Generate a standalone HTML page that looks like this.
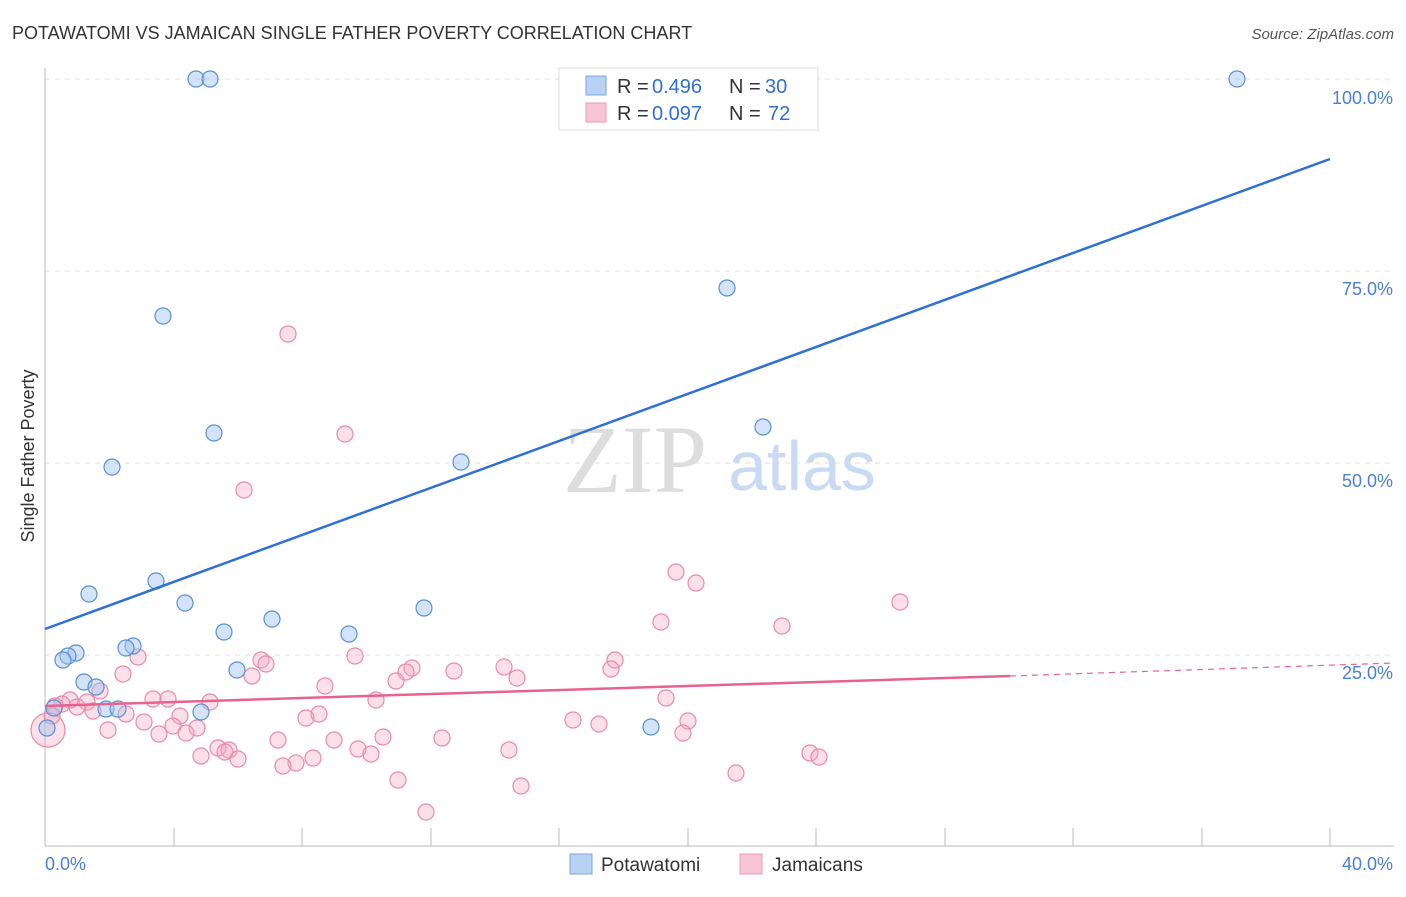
<!DOCTYPE html>
<html><head><meta charset="utf-8"><style>
body{margin:0;background:#fff;font-family:"Liberation Sans",sans-serif}
</style></head><body>
<svg width="1406" height="892" xmlns="http://www.w3.org/2000/svg" font-family="Liberation Sans, sans-serif">
<text x="12" y="39" font-size="18" fill="#333">POTAWATOMI VS JAMAICAN SINGLE FATHER POVERTY CORRELATION CHART</text>
<text x="1394" y="39" font-size="15" fill="#555" font-style="italic" text-anchor="end">Source: ZipAtlas.com</text>
<g stroke="#ddd" stroke-dasharray="5,5" stroke-width="1">
<line x1="45" y1="79" x2="1394" y2="79"/><line x1="45" y1="271" x2="1394" y2="271"/><line x1="45" y1="463" x2="1394" y2="463"/><line x1="45" y1="655" x2="1394" y2="655"/>
</g>
<line x1="45" y1="68" x2="45" y2="846" stroke="#bbb"/>
<line x1="45" y1="846" x2="1394" y2="846" stroke="#bbb"/>
<g stroke="#bbb"><line x1="174" y1="828" x2="174" y2="846"/><line x1="302" y1="828" x2="302" y2="846"/><line x1="431" y1="828" x2="431" y2="846"/><line x1="559" y1="828" x2="559" y2="846"/><line x1="688" y1="828" x2="688" y2="846"/><line x1="816" y1="828" x2="816" y2="846"/><line x1="945" y1="828" x2="945" y2="846"/><line x1="1073" y1="828" x2="1073" y2="846"/><line x1="1202" y1="828" x2="1202" y2="846"/><line x1="1330" y1="828" x2="1330" y2="846"/></g>
<g font-size="18" fill="#4a7fd4" text-anchor="end"><text x="1393" y="104">100.0%</text><text x="1393" y="295">75.0%</text><text x="1393" y="487">50.0%</text><text x="1393" y="679">25.0%</text></g>
<text x="45" y="870" font-size="18" fill="#4a7fd4">0.0%</text>
<text x="1393" y="870" font-size="18" fill="#4a7fd4" text-anchor="end">40.0%</text>
<text transform="translate(34,456) rotate(-90)" font-size="18" fill="#333" text-anchor="middle">Single Father Poverty</text>
<text x="635" y="492" font-size="96" fill="#ddd" font-family="Liberation Serif, serif" text-anchor="middle">ZIP</text>
<text x="802" y="490" font-size="70" fill="#c9daf3" text-anchor="middle">atlas</text>
<g fill="#f4a7bf" fill-opacity="0.35" stroke="#e98aa9" stroke-width="1.2">
<circle cx="48" cy="730" r="17"/>
<circle cx="288" cy="334" r="8"/><circle cx="345" cy="434" r="8"/><circle cx="244" cy="490" r="8"/><circle cx="676" cy="572" r="8"/><circle cx="696" cy="583" r="8"/><circle cx="900" cy="602" r="8"/><circle cx="661" cy="622" r="8"/><circle cx="782" cy="626" r="8"/><circle cx="138" cy="657" r="8"/><circle cx="615" cy="660" r="8"/><circle cx="261" cy="660" r="8"/><circle cx="266" cy="664" r="8"/><circle cx="355" cy="656" r="8"/><circle cx="504" cy="667" r="8"/><circle cx="454" cy="671" r="8"/><circle cx="412" cy="668" r="8"/><circle cx="406" cy="672" r="8"/><circle cx="611" cy="669" r="8"/><circle cx="123" cy="674" r="8"/><circle cx="252" cy="676" r="8"/><circle cx="396" cy="681" r="8"/><circle cx="517" cy="678" r="8"/><circle cx="325" cy="686" r="8"/><circle cx="100" cy="691" r="8"/><circle cx="666" cy="698" r="8"/><circle cx="153" cy="699" r="8"/><circle cx="168" cy="699" r="8"/><circle cx="210" cy="702" r="8"/><circle cx="376" cy="700" r="8"/><circle cx="70" cy="700" r="8"/><circle cx="87" cy="702" r="8"/><circle cx="62" cy="704" r="8"/><circle cx="77" cy="707" r="8"/><circle cx="55" cy="706" r="8"/><circle cx="93" cy="711" r="8"/><circle cx="126" cy="714" r="8"/><circle cx="180" cy="716" r="8"/><circle cx="319" cy="714" r="8"/><circle cx="306" cy="718" r="8"/><circle cx="144" cy="722" r="8"/><circle cx="173" cy="726" r="8"/><circle cx="197" cy="728" r="8"/><circle cx="573" cy="720" r="8"/><circle cx="599" cy="724" r="8"/><circle cx="688" cy="721" r="8"/><circle cx="108" cy="730" r="8"/><circle cx="159" cy="734" r="8"/><circle cx="186" cy="733" r="8"/><circle cx="383" cy="737" r="8"/><circle cx="442" cy="738" r="8"/><circle cx="683" cy="733" r="8"/><circle cx="278" cy="740" r="8"/><circle cx="334" cy="740" r="8"/><circle cx="218" cy="748" r="8"/><circle cx="229" cy="750" r="8"/><circle cx="358" cy="749" r="8"/><circle cx="225" cy="752" r="8"/><circle cx="201" cy="756" r="8"/><circle cx="313" cy="758" r="8"/><circle cx="371" cy="754" r="8"/><circle cx="509" cy="750" r="8"/><circle cx="238" cy="759" r="8"/><circle cx="810" cy="753" r="8"/><circle cx="819" cy="757" r="8"/><circle cx="296" cy="763" r="8"/><circle cx="283" cy="766" r="8"/><circle cx="736" cy="773" r="8"/><circle cx="398" cy="780" r="8"/><circle cx="521" cy="786" r="8"/><circle cx="426" cy="812" r="8"/><circle cx="52" cy="716" r="8"/>
</g>
<g fill="#9fc3ef" fill-opacity="0.45" stroke="#5b8fd8" stroke-width="1.2">
<circle cx="196" cy="79" r="8"/><circle cx="210" cy="79" r="8"/><circle cx="1237" cy="79" r="8"/><circle cx="727" cy="288" r="8"/><circle cx="163" cy="316" r="8"/><circle cx="214" cy="433" r="8"/><circle cx="763" cy="427" r="8"/><circle cx="112" cy="467" r="8"/><circle cx="461" cy="462" r="8"/><circle cx="156" cy="581" r="8"/><circle cx="89" cy="594" r="8"/><circle cx="185" cy="603" r="8"/><circle cx="424" cy="608" r="8"/><circle cx="272" cy="619" r="8"/><circle cx="224" cy="632" r="8"/><circle cx="349" cy="634" r="8"/><circle cx="133" cy="646" r="8"/><circle cx="126" cy="648" r="8"/><circle cx="76" cy="653" r="8"/><circle cx="68" cy="656" r="8"/><circle cx="63" cy="660" r="8"/><circle cx="237" cy="670" r="8"/><circle cx="84" cy="682" r="8"/><circle cx="96" cy="687" r="8"/><circle cx="106" cy="709" r="8"/><circle cx="118" cy="709" r="8"/><circle cx="201" cy="712" r="8"/><circle cx="54" cy="708" r="8"/><circle cx="651" cy="727" r="8"/><circle cx="47" cy="728" r="8"/>
</g>
<line x1="45" y1="629" x2="1330" y2="159" stroke="#2f6fd6" stroke-width="2.5"/>
<line x1="45" y1="706" x2="1010" y2="676" stroke="#e8628e" stroke-width="2.5"/>
<line x1="1010" y1="676" x2="1394" y2="663" stroke="#e8628e" stroke-width="1.2" stroke-dasharray="6,5"/>
<rect x="559" y="68" width="259" height="62" fill="#fff" stroke="#ddd"/>
<rect x="586" y="76" width="20" height="19" fill="#b8d2f4" stroke="#7aa6e2"/>
<rect x="586" y="103" width="20" height="19" fill="#f8c5d5" stroke="#eb98b3"/>
<g font-size="20"><text x="617" y="93" fill="#333">R = </text><text x="652" y="93" fill="#2f6fd6">0.496</text><text x="729" y="93" fill="#333">N = </text><text x="765" y="93" fill="#2f6fd6">30</text>
<text x="617" y="120" fill="#333">R = </text><text x="652" y="120" fill="#2f6fd6">0.097</text><text x="729" y="120" fill="#333">N = </text><text x="768" y="120" fill="#2f6fd6">72</text></g>
<rect x="570" y="854" width="22" height="20" fill="#b8d2f4" stroke="#7aa6e2"/>
<text x="601" y="871" font-size="19" fill="#333">Potawatomi</text>
<rect x="740" y="854" width="22" height="20" fill="#f8c5d5" stroke="#eb98b3"/>
<text x="772" y="871" font-size="19" fill="#333">Jamaicans</text>
</svg>
</body></html>
